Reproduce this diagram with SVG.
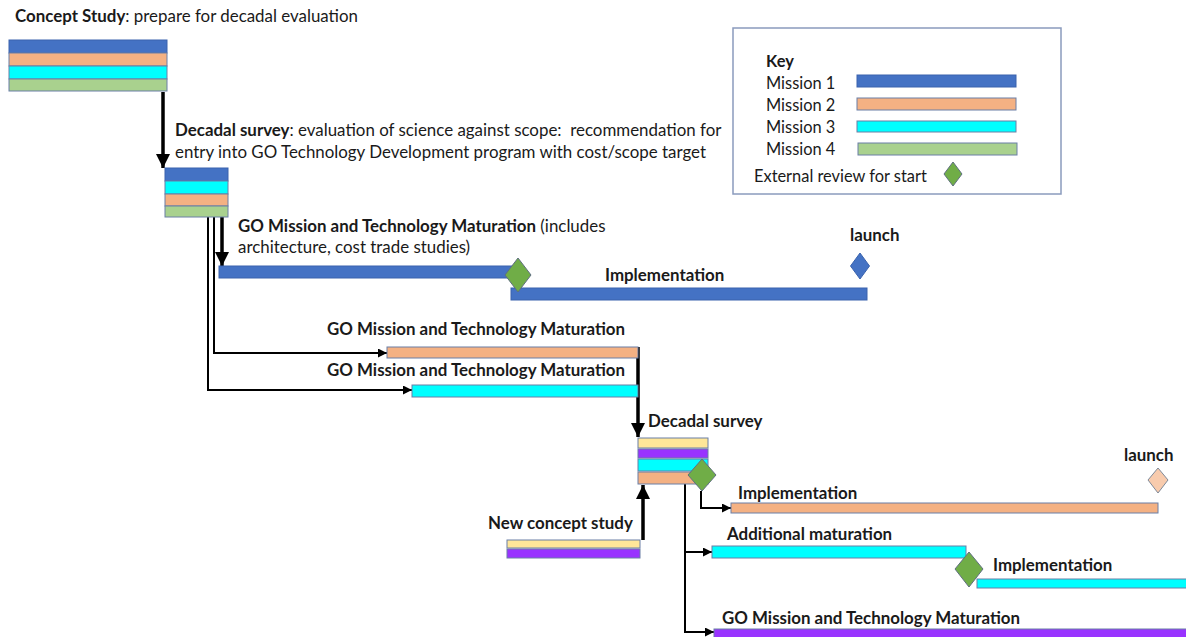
<svg xmlns="http://www.w3.org/2000/svg" width="1186" height="637" viewBox="0 0 1186 637">
<style>
text{font-family:Lato,"Open Sans","Liberation Sans",sans-serif;font-size:16.9px;fill:#1a1a1a}
.b{font-weight:bold}
.k{font-size:16.4px}
.bar{stroke:#6a7fa6;stroke-width:1}
.m1{fill:#4472C4;stroke:#3a62ad}
.m2{fill:#F4B183}
.m3{fill:#00FFFF}
.m4{fill:#A9D18E}
.m5{fill:#FFE699}
.m6{fill:#9933FF}
.dia{fill:#70AD47;stroke:#5f6f80;stroke-width:1}
.thin{fill:none;stroke:#000;stroke-width:2}
.thick{fill:none;stroke:#000;stroke-width:3.5}
</style>
<defs>
<marker id="ah" viewBox="0 0 10 10" refX="10" refY="5" markerWidth="14" markerHeight="14" markerUnits="userSpaceOnUse" orient="auto"><path d="M0,0 L10,5 L0,10 z" fill="#000"/></marker>
<marker id="as" viewBox="0 0 10 10" refX="10" refY="5" markerWidth="9" markerHeight="9" markerUnits="userSpaceOnUse" orient="auto"><path d="M0,0 L10,5 L0,10 z" fill="#000"/></marker>
</defs>
<rect width="1186" height="637" fill="#fff"/>

<g id="connectors">
<path class="thick" d="M163,92 V168" marker-end="url(#ah)"/>
<path class="thick" d="M222,217 V266" marker-end="url(#ah)"/>
<path class="thin" d="M214,217 V353 H387" marker-end="url(#as)"/>
<path class="thin" d="M208,217 V390 H412" marker-end="url(#as)"/>
<path class="thick" d="M638,347 V437" marker-end="url(#ah)"/>
<path class="thick" d="M643,540 V485" marker-end="url(#ah)"/>
<path class="thin" d="M701,491 V508 H731" marker-end="url(#as)"/>
<path class="thin" d="M685,484 V632 H714" marker-end="url(#as)"/>
<path class="thin" d="M685,552 H712" marker-end="url(#as)"/>
</g>

<g id="concept-study">
<text x="15" y="22"><tspan class="b">Concept Study</tspan>: prepare for decadal evaluation</text>
<rect class="bar m1" x="9" y="40" width="158" height="13"/>
<rect class="bar m2" x="9" y="53" width="158" height="13"/>
<rect class="bar m3" x="9" y="66" width="158" height="13"/>
<rect class="bar m4" x="9" y="79" width="158" height="12"/>
</g>

<g id="decadal-survey-1">
<text x="175" y="136" xml:space="preserve"><tspan class="b">Decadal survey</tspan>: evaluation of science against scope:  recommendation for</text>
<text x="175" y="158">entry into GO Technology Development program with cost/scope target</text>
<rect class="bar m1" x="165" y="168" width="63" height="13"/>
<rect class="bar m3" x="165" y="181" width="63" height="13"/>
<rect class="bar m2" x="165" y="194" width="63" height="12"/>
<rect class="bar m4" x="165" y="206" width="63" height="11"/>
</g>

<g id="mission1-maturation">
<text x="238" y="232"><tspan class="b">GO Mission and Technology Maturation</tspan> (includes</text>
<text x="238" y="253">architecture, cost trade studies)</text>
<rect class="bar m1" x="219" y="266" width="296" height="12"/>
</g>

<g id="mission1-implementation">
<text class="b" x="605" y="281">Implementation</text>
<rect class="bar m1" x="511" y="288" width="356" height="12"/>
<path class="dia" d="M518,258 L531,275 L518,292 L505,275 Z"/>
</g>

<g id="mission1-launch">
<text class="b" x="850" y="241">launch</text>
<path d="M860,253 L869.5,266 L860,279 L850.5,266 Z" fill="#4472C4" stroke="#3a62ad"/>
</g>

<g id="mission2-maturation">
<text class="b" x="327" y="335">GO Mission and Technology Maturation</text>
<rect class="bar m2" x="387" y="347" width="251" height="11"/>
</g>

<g id="mission3-maturation">
<text class="b" x="327" y="376">GO Mission and Technology Maturation</text>
<rect class="bar m3" x="412" y="385" width="226" height="12"/>
</g>

<g id="decadal-survey-2">
<text class="b" x="648" y="427">Decadal survey</text>
<rect class="bar m5" x="638" y="438" width="70" height="10"/>
<rect class="bar m6" x="638" y="449" width="70" height="9"/>
<rect class="bar m3" x="638" y="459" width="70" height="12"/>
<rect class="bar m2" x="638" y="472" width="70" height="12"/>
<path class="dia" d="M702,459 L716,475 L702,491 L688,475 Z"/>
</g>

<g id="new-concept-study">
<text class="b" x="488" y="529">New concept study</text>
<rect class="bar m5" x="507" y="540" width="133" height="8"/>
<rect class="bar m6" x="507" y="549" width="133" height="9"/>
</g>

<g id="mission2-implementation">
<text class="b" x="738" y="499">Implementation</text>
<rect class="bar m2" x="731" y="503" width="427" height="10"/>
</g>

<g id="mission2-launch">
<text class="b" x="1124" y="461">launch</text>
<path d="M1158,468 L1168,480 L1158,493 L1148,480 Z" fill="#F8CBAD" stroke="#7f8a99"/>
</g>

<g id="mission3-additional-maturation">
<text class="b" x="727" y="540">Additional maturation</text>
<rect class="bar m3" x="712" y="546" width="254" height="12"/>
</g>

<g id="mission3-implementation">
<text class="b" x="993" y="571">Implementation</text>
<rect class="bar m3" x="977" y="579" width="215" height="9"/>
<path class="dia" d="M969,552 L983,569 L969,587 L955,569 Z"/>
</g>

<g id="mission4-maturation">
<text class="b" x="722" y="624">GO Mission and Technology Maturation</text>
<rect class="bar m6" x="714" y="629" width="480" height="12"/>
</g>

<g id="key">
<rect x="733" y="28" width="328" height="166" fill="#fff" stroke="#8a9bbd" stroke-width="1.5"/>
<text class="b k" x="766" y="67">Key</text>
<text class="k" x="766" y="89">Mission 1</text>
<rect class="bar m1" x="857" y="75" width="159" height="12"/>
<text class="k" x="766" y="111">Mission 2</text>
<rect class="bar m2" x="857" y="98" width="159" height="12"/>
<text class="k" x="766" y="133">Mission 3</text>
<rect class="bar m3" x="857" y="121" width="159" height="11"/>
<text class="k" x="766" y="155">Mission 4</text>
<rect class="bar m4" x="858" y="143" width="159" height="12"/>
<text class="k" x="754" y="182">External review for start</text>
<path class="dia" d="M953,162 L962,174 L953,186 L944,174 Z"/>
</g>
</svg>
